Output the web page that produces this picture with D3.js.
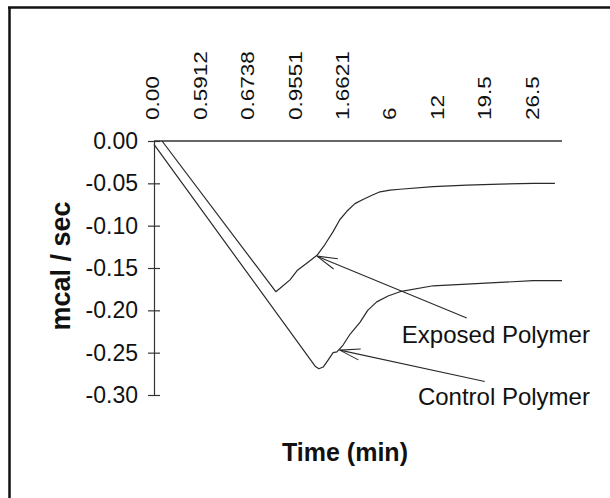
<!DOCTYPE html>
<html><head><meta charset="utf-8">
<script src="https://cdn.jsdelivr.net/npm/d3@7"></script>
<style>
html,body{margin:0;padding:0;background:#fff;}
svg{display:block;}
text{font-family:"Liberation Sans",Arial,sans-serif;fill:#111;}
</style></head>
<body>
<svg id="chart" width="610" height="498"></svg>
<script>
// category tick labels (time, min) placed at category positions 0..8
const xTickLabels = ["0.00","0.5912","0.6738","0.9551","1.6621","6","12","19.5","26.5"];
const yTicks = [0, -0.05, -0.10, -0.15, -0.20, -0.25, -0.30];

// Exposed Polymer: category position and heat flow (mcal/sec)
const exposedPos = [0.17, 2.57, 2.66, 2.87, 3.02, 3.23, 3.44, 3.61, 3.78, 3.92, 4.07, 4.24, 4.41, 4.60, 4.77, 4.98, 5.19, 5.89, 6.60, 7.30, 8.00, 8.46];
const exposedVal = [0.000, -0.178, -0.174, -0.164, -0.153, -0.144, -0.135, -0.122, -0.107, -0.093, -0.083, -0.074, -0.069, -0.064, -0.060, -0.058, -0.057, -0.054, -0.052, -0.051, -0.050, -0.050];

// Control Polymer
const controlPos = [0.00, 3.40, 3.48, 3.57, 3.67, 3.78, 3.86, 3.99, 4.14, 4.35, 4.51, 4.70, 4.94, 5.19, 5.89, 6.60, 7.30, 8.00, 8.61];
const controlVal = [-0.004, -0.266, -0.269, -0.267, -0.259, -0.250, -0.249, -0.241, -0.228, -0.214, -0.200, -0.190, -0.183, -0.178, -0.171, -0.169, -0.167, -0.165, -0.165];

// annotations: label text, arrow tip and tail (category pos, value)
const annotLabels = ["Exposed Polymer", "Control Polymer"];
const annotTip = [[3.44, -0.136], [3.92, -0.247]];
const annotTail = [[6.60, -0.209], [6.98, -0.284]];
const annotTextPos = [[9.20, -0.2386], [9.20, -0.3118]];

const svg = d3.select("#chart");

// frame (left and top edges visible)
svg.append("line").attr("x1",9.5).attr("y1",7).attr("x2",9.5).attr("y2",498).attr("stroke","#111").attr("stroke-width",2.5);
svg.append("line").attr("x1",8).attr("y1",7.5).attr("x2",610).attr("y2",7.5).attr("stroke","#111").attr("stroke-width",2.5);

const x = d3.scaleLinear().domain([0, 8.61]).range([154, 562]);
const y = d3.scaleLinear().domain([0, -0.30]).range([141, 395]);

// y axis
const fmt = d => d3.format(".2f")(d).replace("\u2212","-");
const yAxis = svg.append("g").attr("transform","translate(154,0)")
  .call(d3.axisLeft(y).tickValues(yTicks).tickSizeInner(6).tickSizeOuter(0).tickPadding(10).tickFormat(fmt));
yAxis.select(".domain").attr("stroke","#333").attr("stroke-width",1.2);
yAxis.selectAll(".tick line").attr("x1",-6).attr("x2",6).attr("stroke","#333").attr("stroke-width",1.2);
yAxis.selectAll(".tick text").attr("font-size",23).attr("fill","#111").style("font-family","'Liberation Sans',Arial,sans-serif");

// x axis (zero line)
svg.append("line").attr("x1",x(0)).attr("x2",x(8.61)).attr("y1",y(0)).attr("y2",y(0)).attr("stroke","#333").attr("stroke-width",1.5);

// x tick labels, rotated
svg.append("g").selectAll("text").data(xTickLabels).join("text")
  .attr("transform",(d,i)=>`translate(${x(i)-1},120) rotate(-90) scale(1.25,1)`)
  .attr("dy","0.36em")
  .attr("text-anchor","start")
  .attr("font-size",18)
  .text(d=>d);

// lines
const line = d3.line().x(d=>x(d[0])).y(d=>y(d[1]));
const exposed = exposedPos.map((p,i)=>[p, exposedVal[i]]);
const control = controlPos.map((p,i)=>[p, controlVal[i]]);
[exposed, control].forEach(s=>{
  svg.append("path").datum(s).attr("d",line).attr("fill","none").attr("stroke","#2a2a2a").attr("stroke-width",1.2).attr("stroke-linejoin","round");
});

// annotation arrows
annotTip.forEach((t,i)=>{
  const tx=x(t[0]), ty=y(t[1]);
  const sx=x(annotTail[i][0]), sy=y(annotTail[i][1]);
  svg.append("line").attr("x1",sx).attr("y1",sy).attr("x2",tx).attr("y2",ty).attr("stroke","#2a2a2a").attr("stroke-width",1.1);
  const ang=Math.atan2(sy-ty, sx-tx);
  [-0.27,0.27].forEach(da=>{
    svg.append("line").attr("x1",tx).attr("y1",ty)
      .attr("x2",tx+21*Math.cos(ang+da)).attr("y2",ty+21*Math.sin(ang+da))
      .attr("stroke","#2a2a2a").attr("stroke-width",1.1);
  });
});
svg.append("g").selectAll("text").data(annotLabels).join("text")
  .attr("x",(d,i)=>x(annotTextPos[i][0])).attr("y",(d,i)=>y(annotTextPos[i][1]))
  .attr("text-anchor","end").attr("font-size",24).text(d=>d);

// axis titles
svg.append("text").attr("transform","translate(70,266) rotate(-90)")
  .attr("text-anchor","middle").attr("font-size",27).attr("font-weight","bold").text("mcal / sec");
svg.append("text").attr("x",345).attr("y",461)
  .attr("text-anchor","middle").attr("font-size",25).attr("font-weight","bold").text("Time (min)");
</script>
</body></html>
